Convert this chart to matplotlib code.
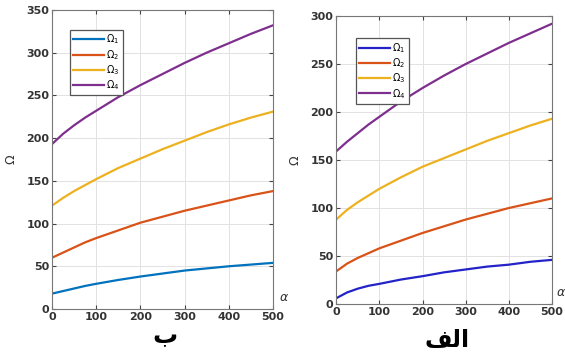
import matplotlib
matplotlib.use("Agg")
import matplotlib.pyplot as plt

# alpha values along the x axis
alpha = [0, 25, 50, 75, 100, 150, 200, 250, 300, 350, 400, 450, 500]

# left panel (ب)
b_omega1 = [18, 21, 24, 27, 29.5, 34, 38, 41.5, 45, 47.5, 50, 52, 54]
b_omega2 = [60, 66, 72, 78, 83, 92, 101, 108, 115, 121, 127, 133, 138]
b_omega3 = [121, 130, 138, 145, 152, 165, 176, 187, 197, 207, 216, 224, 231]
b_omega4 = [193, 205, 215, 224, 232, 248, 262, 275, 288, 300, 311, 322, 332]

# right panel (الف)
a_omega1 = [6, 12, 16, 19, 21, 25.5, 29, 33, 36, 39, 41, 44, 46]
a_omega2 = [34, 42, 48, 53, 58, 66, 74, 81, 88, 94, 100, 105, 110]
a_omega3 = [88, 98, 106, 113, 120, 132, 143, 152, 161, 170, 178, 186, 193]
a_omega4 = [159, 169, 178, 187, 195, 211, 225, 238, 250, 261, 272, 282, 292]

xticks = [0, 100, 200, 300, 400, 500]
labels = [r'$\Omega_1$', r'$\Omega_2$', r'$\Omega_3$', r'$\Omega_4$']
left_colors = ['#0072BD', '#D95319', '#EDB120', '#7E2F8E']
right_colors = ['#2323C8', '#D95319', '#EDB120', '#7E2F8E']

fig = plt.figure(figsize=(5.65, 3.56), dpi=100)
ax_b = fig.add_axes([0.092, 0.132, 0.391, 0.840])
ax_a = fig.add_axes([0.595, 0.146, 0.382, 0.809])


def style(ax, series, colors, ymax, leg_anchor):
    for ys, c, lab in zip(series, colors, labels):
        ax.plot(alpha, ys, color=c, lw=1.6, label=lab)
    ax.set_xlim(0, 500)
    ax.set_ylim(0, ymax)
    ax.set_xticks(xticks)
    ax.grid(True, color='#e2e2e2', lw=0.7)
    ax.tick_params(direction='in', length=3, top=True, right=True,
                   labelsize=8, colors='#444444', pad=2)
    for lab in ax.get_xticklabels() + ax.get_yticklabels():
        lab.set_fontweight('bold')
        lab.set_color('#333333')
    for s in ax.spines.values():
        s.set_color('#777777')
        s.set_linewidth(0.8)
    leg = ax.legend(loc='upper left', bbox_to_anchor=leg_anchor, fontsize=7,
                    handlelength=3.2, handletextpad=0.2, borderpad=0.3,
                    labelspacing=0.15, fancybox=False, framealpha=1,
                    edgecolor='#555555')
    leg.get_frame().set_linewidth(0.9)


style(ax_b, [b_omega1, b_omega2, b_omega3, b_omega4], left_colors, 350, (0.06, 0.95))
style(ax_a, [a_omega1, a_omega2, a_omega3, a_omega4], right_colors, 300, (0.07, 0.94))

for ax, xl in [(ax_b, 1.05), (ax_a, 1.04)]:
    ax.set_ylabel(r'$\Omega$', fontsize=9, color='#333333', labelpad=6)
    ax.text(xl, 0.04, r'$\alpha$', transform=ax.transAxes, fontsize=9,
            color='#333333', ha='center', va='center')

fig.text(165 / 565, 1 - 343 / 356, '\uFE8F', fontsize=18, fontweight='bold',
         family='DejaVu Sans', ha='center', va='baseline')
fig.text(447 / 565, 1 - 340 / 356, '\uFED2\uFEDF\uFE8D', fontsize=17,
         fontweight='bold', family='DejaVu Sans', ha='center', va='center')

plt.savefig('out.png', dpi=100)
